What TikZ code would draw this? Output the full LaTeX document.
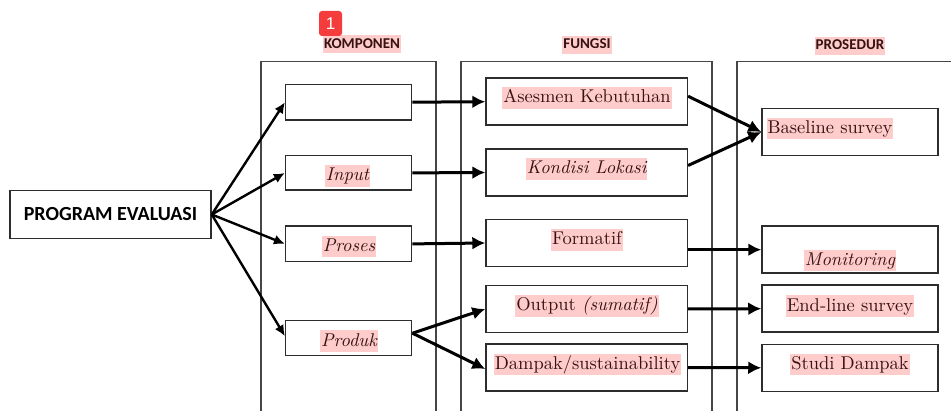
\documentclass[tikz,border=0pt]{standalone}
\usepackage{fontspec}
\setmainfont{lmroman10-regular}[Extension=.otf, ItalicFont=lmroman10-italic, BoldFont=lmroman10-bold]
\newfontfamily\carlito{Carlito}
\newfontfamily\badgefont{Liberation Sans}
\usetikzlibrary{arrows.meta}
\definecolor{pinkc}{RGB}{255,204,204}
\definecolor{textc}{RGB}{55,18,18}
\definecolor{linec}{RGB}{45,45,45}
\definecolor{colc}{RGB}{70,70,70}
\definecolor{badgec}{RGB}{245,60,60}
\tikzset{
  box/.style={draw=linec, line width=1.5pt, fill=white, inner sep=0pt},
  kbox/.style={box, minimum width=126pt, minimum height=35.5pt},
  fbox/.style={box, minimum width=201.3pt, minimum height=47pt},
  pbox/.style={box, minimum width=176pt, minimum height=47pt},
  hl/.style={fill=pinkc, text=textc, inner xsep=1pt, inner ysep=1.2pt, text height=14.5pt, text depth=5pt, font=\fontsize{18.5}{20}\selectfont},
  ttl/.style={fill=pinkc, text=textc, inner xsep=1pt, inner ysep=1.5pt, text height=11.5pt, text depth=3.5pt, font=\carlito\bfseries\fontsize{15}{17}\selectfont},
  col/.style={draw=colc, line width=1.3pt},
  arr/.style={line width=3pt, -{Latex[length=13pt,width=13pt]}},
  darr/.style={line width=2.4pt, -{Latex[length=11pt,width=10pt]}}
}
\begin{document}
\begin{tikzpicture}[x=1pt,y=-1pt]
\useasboundingbox (0,0) rectangle (951,411);
% columns
\coordinate (kc-bl) at (261,411);
\coordinate (kc-tl) at (261,61.7);
\coordinate (kc-tr) at (436,61.7);
\coordinate (kc-br) at (436,411);
\draw[col] (kc-bl) -- (kc-tl) -- (kc-tr) -- (kc-br);
\coordinate (fc-bl) at (461,411);
\coordinate (fc-tl) at (461,61.7);
\coordinate (fc-tr) at (712,61.7);
\coordinate (fc-br) at (712,411);
\draw[col] (fc-bl) -- (fc-tl) -- (fc-tr) -- (fc-br);
\coordinate (pc-bl) at (737,411);
\coordinate (pc-tl) at (737,61.7);
\coordinate (pc-tr) at (951,61.7);
\draw[col] (pc-bl) -- (pc-tl) -- (pc-tr);
% titles
\node[ttl] (ttl-k) at (362,44.5) {KOMPONEN};
\node[ttl] (ttl-f) at (587,45) {FUNGSI};
\node[ttl] (ttl-p) at (850,46) {PROSEDUR};
% badge
\node[fill=badgec, rounded corners=3pt, minimum width=23pt, minimum height=25pt, inner sep=0pt, text=white, font=\badgefont\fontsize{17}{18}\selectfont] (badge) at (330.5,23.5) {1};
% program box
\node[box, minimum width=201pt, minimum height=47.6pt, font=\carlito\bfseries\fontsize{20}{22}\selectfont] (prog) at (110.5,214.5) {PROGRAM EVALUASI};
% komponen boxes
\node[kbox] (k1) at (348.7,102.2) {};
\node[kbox, minimum height=34.3pt] (kin) at (348.7,172.9) {};
\node[kbox] (kpro) at (348.7,243.9) {};
\node[kbox, minimum height=35pt] (kprod) at (348.7,338.2) {};
% fungsi boxes
\node[fbox] (fases) at (586.7,101.7) {};
\node[fbox] (fkon) at (586.7,172.5) {};
\node[fbox] (fform) at (586.7,243) {};
\node[fbox] (fout) at (586.7,309) {};
\node[fbox] (fdam) at (586.7,367.5) {};
% prosedur boxes
\node[pbox] (pbase) at (850,132) {};
\node[pbox] (pmon) at (850,249.7) {};
\node[pbox] (pend) at (850,308.7) {};
\node[pbox] (pstu) at (850,367.8) {};
% texts
\node[hl] (t-input) at (347.5,176) {\itshape Input};
\node[hl] (t-proses) at (349,246.5) {\itshape Proses};
\node[hl] (t-produk) at (349,341.3) {\itshape Produk};
\node[hl] (t-ases) at (587,98) {Asesmen Kebutuhan};
\node[hl] (t-kon) at (586.7,169) {\itshape Kondisi Lokasi};
\node[hl] (t-form) at (587,240) {Formatif};
\node[hl] (t-out) at (587,306) {Output \itshape(sumatif)};
\node[hl] (t-dam) at (587.5,364.5) {Dampak/sustainability};
\node[hl, anchor=west] (t-base) at (766.3,128.5) {Baseline survey};
\node[hl] (t-mon) at (850,260.5) {\itshape Monitoring};
\node[hl] (t-end) at (850,306.3) {End-line survey};
\node[hl] (t-stu) at (850,364.5) {Studi Dampak};
% arrows from program
\draw[darr] (prog.east) -- (k1.west);
\draw[darr] (prog.east) -- (kin.west);
\draw[darr] (prog.east) -- (kpro.west);
\draw[darr] (prog.east) -- ([yshift=2pt]kprod.west);
% komponen -> fungsi
\draw[arr] (k1.east) -- (fases.west);
\draw[arr] (kin.east) -- (fkon.west);
\draw[arr] (kpro.east) -- (fform.west);
\draw[arr] ([yshift=5pt]kprod.east) -- (fout.west);
\draw[arr] ([yshift=5pt]kprod.east) -- ([yshift=-1.5pt]fdam.west);
% fungsi -> prosedur
\draw[arr] ([yshift=5.5pt]fases.east) -- (pbase.west);
\draw[arr] ([yshift=7pt]fkon.east) -- (pbase.west);
\draw[arr] (fform.east |- pmon.west) -- (pmon.west);
\draw[arr] (fout.east) -- (pend.west);
\draw[arr] (fdam.east) -- (pstu.west);
\end{tikzpicture}
\end{document}
